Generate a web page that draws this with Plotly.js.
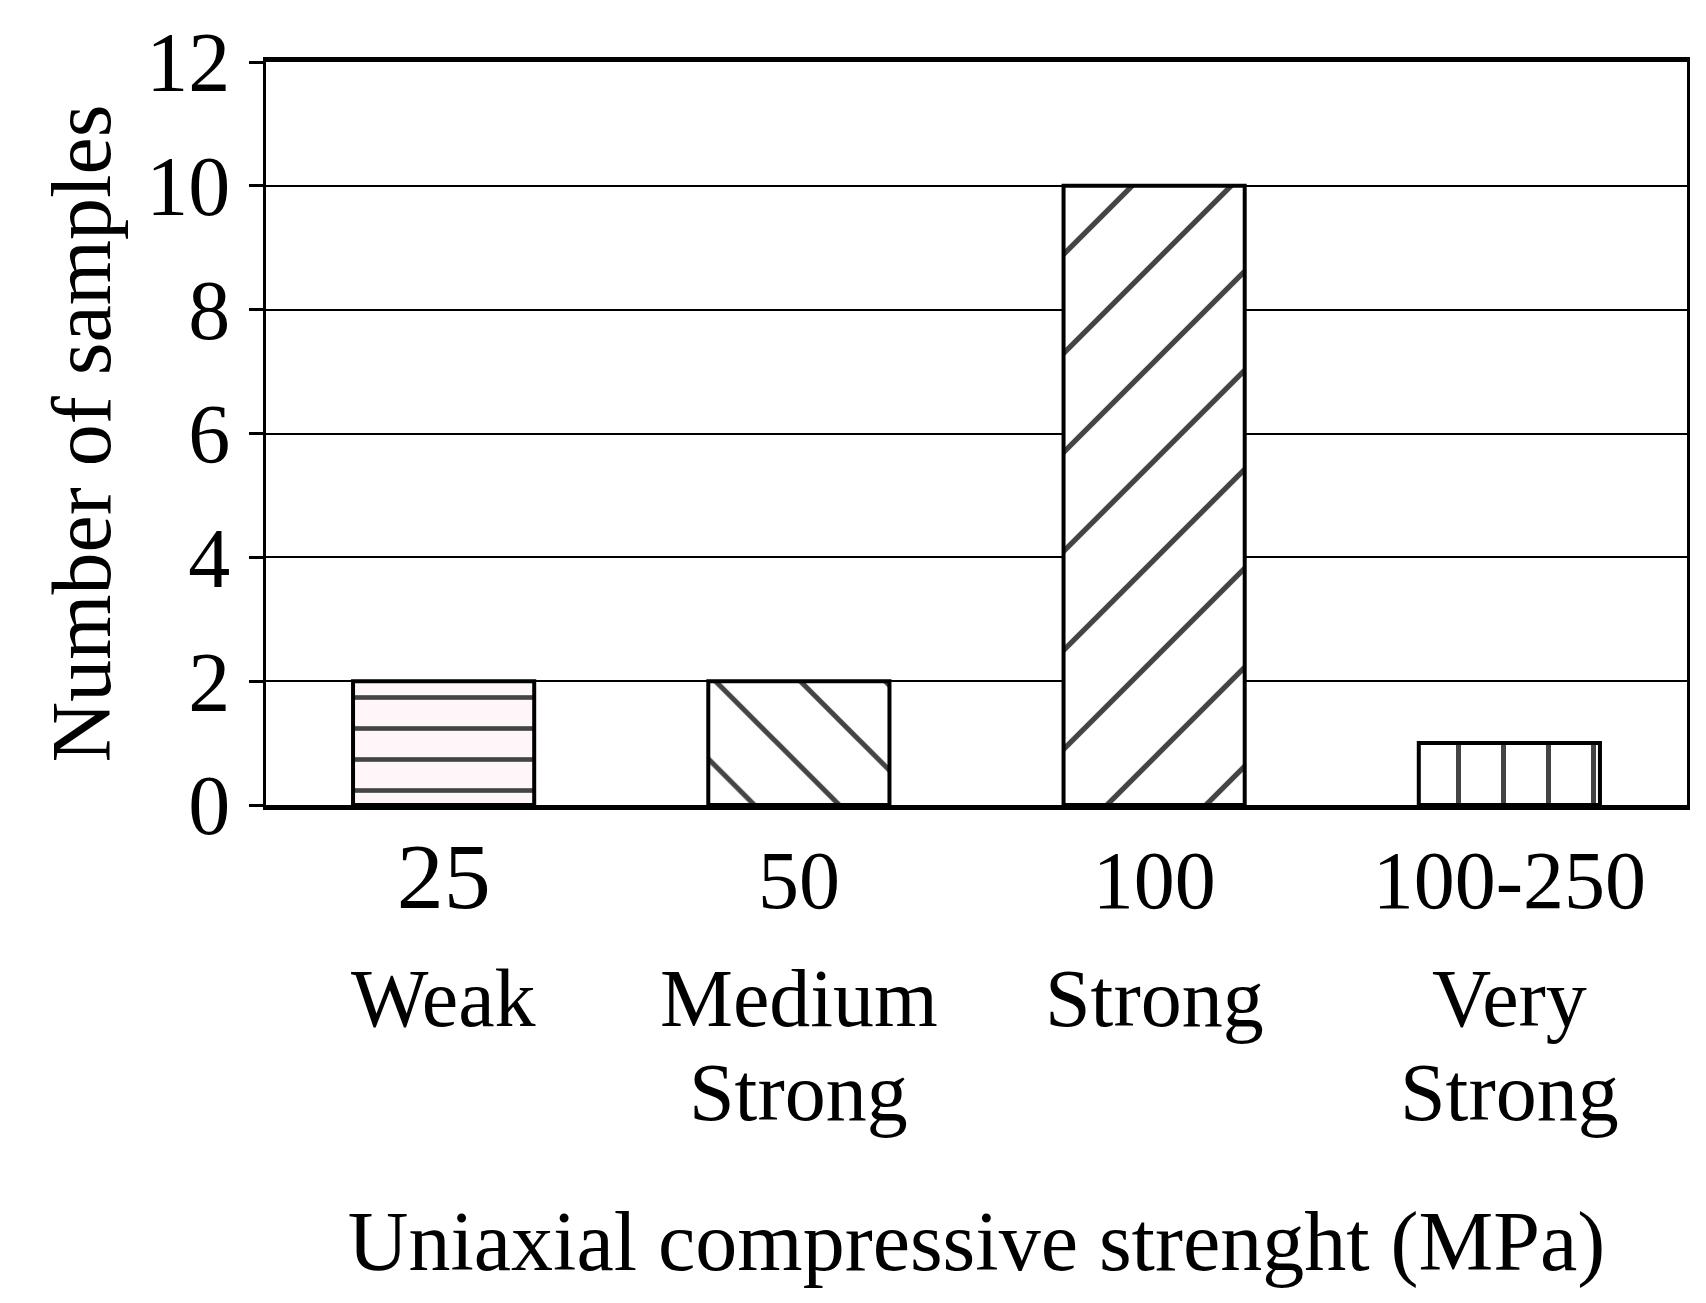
<!DOCTYPE html>
<html>
<head>
<meta charset="utf-8">
<script src="https://cdn.plot.ly/plotly-3.0.1.min.js"></script>
<style>html,body{margin:0;padding:0;background:#fff;}#chart{width:1706px;height:1303px;}</style>
</head>
<body>
<div id="chart"></div>
<script>
// ---- data ----
const categories = ["25", "50", "100", "100-250"];
const sampleCounts = [2, 2, 10, 1];
const classLine1 = ["Weak", "Medium", "Strong", "Very"];
const classLine2 = ["", "Strong", "", "Strong"];
const yTickValues = [0, 2, 4, 6, 8, 10, 12];
const xTitle = "Uniaxial compressive strenght (MPa)";
const yTitle = "Number of samples";

// ---- styles ----
const FONT = "Liberation Serif, Times New Roman, serif";
const hatchShapes = ["-", "\\", "/", "|"];
const hatchSizes = [31, 60, 70, 45];
const hatchSolidity = [0.15, 0.085, 0.075, 0.11];
const barFill = ["#fff6f9", "#ffffff", "#ffffff", "#ffffff"];
const tickFontSizes = [94, 82, 82, 82];

const trace = {
  type: "bar",
  x: categories,
  y: sampleCounts,
  marker: {
    color: barFill,
    line: {color: "#000", width: 4},
    pattern: {
      shape: hatchShapes,
      size: hatchSizes,
      solidity: hatchSolidity,
      fgcolor: "#000",
      fgopacity: 1,
      fillmode: "overlay"
    }
  },
  hoverinfo: "skip"
};

const annotations = [];
categories.forEach((c, i) => {
  annotations.push({x: i, xref: "x", y: -0.260, yref: "paper", text: classLine1[i],
    showarrow: false, yanchor: "middle", xanchor: "center", font: {family: FONT, size: 82, color: "#000"}});
  if (classLine2[i]) {
    annotations.push({x: i, xref: "x", y: -0.387, yref: "paper", text: classLine2[i],
      showarrow: false, yanchor: "middle", xanchor: "center", font: {family: FONT, size: 82, color: "#000"}});
  }
});

const layout = {
  width: 1706, height: 1303,
  margin: {l: 266, r: 19, t: 62, b: 498},
  paper_bgcolor: "#fff", plot_bgcolor: "#fff",
  showlegend: false,
  bargap: 0.49,
  font: {family: FONT, color: "#000"},
  xaxis: {
    type: "category",
    categoryarray: categories, categoryorder: "array",
    range: [-0.5, categories.length - 0.5],
    tickmode: "array",
    tickvals: categories,
    ticktext: categories.map((c, i) => '<span style="font-size:' + tickFontSizes[i] + 'px">' + c + '</span>'),
    showline: true, linecolor: "#000", linewidth: 5, mirror: true,
    showgrid: false, ticks: "",
    tickfont: {family: FONT, size: 82, color: "#000"},
    ticklabelstandoff: 0,
    title: {text: xTitle, font: {family: FONT, size: 84, color: "#000"}, standoff: 285},
    fixedrange: true
  },
  yaxis: {
    range: [0, 12],
    tickvals: yTickValues,
    showline: true, linecolor: "#000", linewidth: 3, mirror: true,
    showgrid: true, gridcolor: "#000", gridwidth: 2,
    zeroline: false,
    ticks: "outside", ticklen: 14, tickwidth: 3, tickcolor: "#000",
    tickfont: {family: FONT, size: 84, color: "#000"},
    ticklabelstandoff: 2,
    title: {text: yTitle, font: {family: FONT, size: 84, color: "#000"}, standoff: 8},
    fixedrange: true
  },
  annotations: annotations
};

Plotly.newPlot("chart", [trace], layout, {displayModeBar: false, staticPlot: true});
</script>
</body>
</html>
